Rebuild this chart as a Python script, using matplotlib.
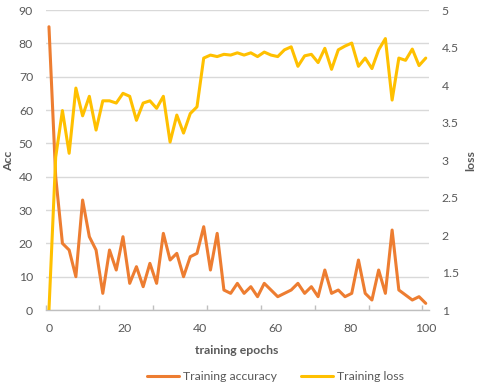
import numpy as np
import matplotlib
matplotlib.use("Agg")
import matplotlib.pyplot as plt
from matplotlib.ticker import FuncFormatter, FixedLocator

plt.rcParams['font.family'] = ['Lato', 'DejaVu Sans']

# ---- data ----
n_points = 57
epochs = np.linspace(0, 100, n_points)

training_accuracy = [85, 40, 20, 18, 10, 33, 22, 18, 5, 18, 12, 22, 8, 13, 7, 14, 8, 23,
                     15, 17, 10, 16, 17, 25, 12, 23, 6, 5, 8, 5, 7, 4, 8, 6, 4, 5, 6, 8,
                     5, 7, 4, 12, 5, 6, 4, 5, 15, 5, 3, 12, 5, 24, 6, 4.5, 3, 4, 2]

training_loss = [1.00, 3.04, 3.66, 3.09, 3.96, 3.59, 3.85, 3.40, 3.79, 3.79, 3.76, 3.89,
                 3.85, 3.53, 3.76, 3.79, 3.69, 3.85, 3.24, 3.60, 3.36, 3.62, 3.71, 4.36,
                 4.40, 4.38, 4.41, 4.40, 4.43, 4.40, 4.43, 4.38, 4.44, 4.40, 4.38, 4.47,
                 4.51, 4.25, 4.39, 4.41, 4.30, 4.49, 4.21, 4.47, 4.52, 4.56, 4.25, 4.36,
                 4.22, 4.47, 4.62, 3.80, 4.36, 4.33, 4.48, 4.26, 4.36]

x_ticks = [0, 20, 40, 60, 80, 100]
acc_ticks = list(range(0, 91, 10))
loss_ticks = [1, 1.5, 2, 2.5, 3, 3.5, 4, 4.5, 5]

ORANGE = '#ED7D31'
YELLOW = '#FFC000'
TXT = '#595959'
GRID = '#D9D9D9'
FS = 8.8

fig = plt.figure(figsize=(4.8, 3.88), dpi=100)
ax = fig.add_axes([0.095, 0.201, 0.799, 0.773])
ax2 = ax.twinx()

step = 100 / (n_points - 1)
ax.set_xlim(-step / 2, 100 + step / 2)
ax.set_ylim(0, 90)
ax2.set_ylim(1, 5)

l1, = ax.plot(epochs, training_accuracy, color=ORANGE, lw=2.2,
              solid_joinstyle='round', solid_capstyle='round', label='Training accuracy')
l2, = ax2.plot(epochs, training_loss, color=YELLOW, lw=2.2,
               solid_joinstyle='round', solid_capstyle='round', label='Training loss')

ax.set_yticks(acc_ticks)
ax2.set_yticks(loss_ticks)
ax2.yaxis.set_major_formatter(FuncFormatter(lambda v, p: '%g' % v))
ax.set_xticks(x_ticks)
ax.xaxis.set_minor_locator(FixedLocator([(-0.5 + 8 * k) * step for k in range(8)]))

ax.grid(axis='y', color=GRID, lw=1)
ax.set_axisbelow(True)

for a in (ax, ax2):
    for s in a.spines.values():
        s.set_visible(False)
ax.spines['bottom'].set_visible(True)
ax.spines['bottom'].set_color('#BFBFBF')
ax.spines['bottom'].set_linewidth(1)

ax.tick_params(axis='y', length=0, labelsize=FS, labelcolor=TXT, pad=9)
ax2.tick_params(axis='y', length=0, labelsize=FS, labelcolor=TXT, pad=9)
ax.tick_params(axis='x', which='major', length=0, labelsize=FS, labelcolor=TXT, pad=9)
ax.tick_params(axis='x', which='minor', length=3.5, direction='in', color='#BFBFBF', width=1)

fig.text(237 / 480, 1 - 350 / 388, 'training epochs', fontsize=FS, fontweight='bold',
         color=TXT, ha='center', va='center')
fig.text(9 / 480, 1 - 161 / 388, 'Acc', fontsize=FS, fontweight='bold', color=TXT,
         ha='center', va='center', rotation=90)
fig.text(471 / 480, 1 - 161 / 388, 'loss', fontsize=FS, fontweight='bold', color=TXT,
         ha='center', va='center', rotation=90)

fig.legend(handles=[l1, l2], loc='center', bbox_to_anchor=(0.574, 0.029), ncol=2,
           frameon=False, fontsize=FS, labelcolor=TXT, handlelength=2.6,
           handletextpad=0.3, columnspacing=2.0)

fig.savefig('out.png', dpi=100)
